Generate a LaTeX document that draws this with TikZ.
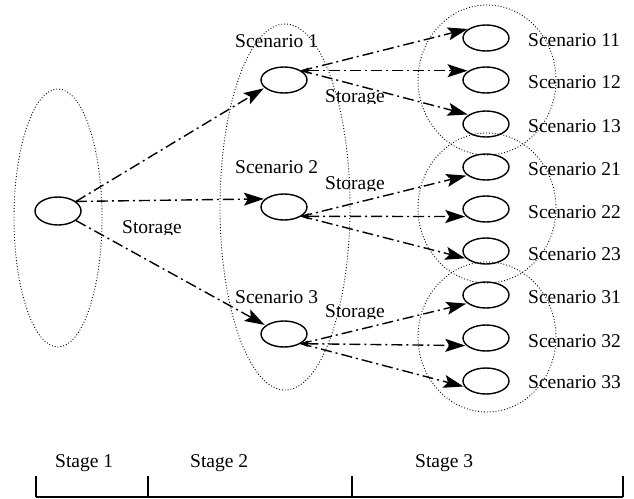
\documentclass[tikz,border=0pt]{standalone}
\usepackage{fontspec}
\setmainfont{Liberation Serif}
\usetikzlibrary{shapes.geometric,arrows.meta}
\begin{document}
\begin{tikzpicture}[x=1pt,y=-1pt,
  scen/.style={draw,ellipse,line width=1.4pt,minimum width=46pt,minimum height=26pt,inner sep=0pt},
  lbl/.style={anchor=base west,inner sep=0pt,font=\fontsize{19.5}{22}\selectfont},
  flow/.style={line width=1.4pt,dash pattern=on 11pt off 4pt on 2pt off 4pt,shorten >=1pt,
    -{Stealth[length=20pt,width=13pt,inset=4pt,line width=1.2pt]}},
  flowmid/.style={flow,{Triangle[length=7pt,width=6pt]}-{Stealth[length=20pt,width=13pt,inset=4pt,line width=1.2pt]}},
  grp/.style={dotted,line width=0.9pt},
  bar/.style={line width=1.4pt}]
\useasboundingbox (0,0) rectangle (634,498);

% group outlines
\draw[grp] (58,218) ellipse [x radius=44pt, y radius=129pt];
\draw[grp] (285,207) ellipse [x radius=65pt, y radius=183pt];
\draw[grp] (487,80) ellipse [x radius=69pt, y radius=75pt];
\draw[grp] (487,208) ellipse [x radius=69pt, y radius=75pt];
\draw[grp] (487,337) ellipse [x radius=69pt, y radius=75pt];

% nodes
\node[scen,minimum height=28pt] (r) at (58,211) {};
\node[scen] (s1) at (284,80) {};
\node[scen] (s2) at (284,207) {};
\node[scen] (s3) at (284,334) {};
\node[scen] (s11) at (486,38) {};
\node[scen] (s12) at (486,80) {};
\node[scen] (s13) at (486,124) {};
\node[scen] (s21) at (486,167) {};
\node[scen] (s22) at (486,209) {};
\node[scen] (s23) at (486,251) {};
\node[scen] (s31) at (486,295) {};
\node[scen] (s32) at (486,338) {};
\node[scen] (s33) at (486,381) {};

% labels
\node[lbl] (l1) at (235,47) {Scenario 1};
\node[lbl] (l2) at (235,173) {Scenario 2};
\node[lbl] (l3) at (235,303) {Scenario 3};
\node[lbl] (l11) at (528,46) {Scenario 11};
\node[lbl] (l12) at (528,88) {Scenario 12};
\node[lbl] (l13) at (528,132) {Scenario 13};
\node[lbl] (l21) at (528,175) {Scenario 21};
\node[lbl] (l22) at (528,218) {Scenario 22};
\node[lbl] (l23) at (528,260) {Scenario 23};
\node[lbl] (l31) at (528,303) {Scenario 31};
\node[lbl] (l32) at (528,347) {Scenario 32};
\node[lbl] (l33) at (528,388) {Scenario 33};

\begin{scope}
\clip (110,200) rectangle (200,234);
\node[lbl] (st0) at (122,233) {Storage};
\end{scope}
\begin{scope}
\clip (315,80) rectangle (400,103);
\node[lbl] (st1) at (325,102) {Storage};
\end{scope}
\begin{scope}
\clip (315,165) rectangle (400,190);
\node[lbl] (st2) at (325,189) {Storage};
\end{scope}
\begin{scope}
\clip (315,290) rectangle (400,318);
\node[lbl] (st3) at (325,317) {Storage};
\end{scope}

% connectors
\draw[flow] (r.28) -- (s1.202);
\draw[flow] (r.28) -- (s2.157);
\draw[flow] (r.-28) -- (s3.155);

\draw[flow] (s1.28) -- (s11.152);
\draw[flowmid] (s1.28) -- (s12.152);
\draw[flow] (s1.28) -- (s13.152);

\draw[flow] (s2.-28) -- (s21.204);
\draw[flowmid] (s2.-28) -- (s22.201);
\draw[flow] (s2.-28) -- (s23.201);

\draw[flow] (s3.-30) -- (s31.204);
\draw[flowmid] (s3.-30) -- (s32.201);
\draw[flow] (s3.-30) -- (s33.195);

% stage bar
\coordinate (b0) at (36,497);
\coordinate (b1) at (148,497);
\coordinate (b2) at (352,497);
\coordinate (b3) at (623,497);
\draw[bar] (b0) -- (b3);
\draw[bar] (b0) -- ++(0,-21);
\draw[bar] (b1) -- ++(0,-21);
\draw[bar] (b2) -- ++(0,-21);
\draw[bar] (b3) -- ++(0,-21);
\node[lbl] (g1) at (55,467) {Stage 1};
\node[lbl] (g2) at (190,467) {Stage 2};
\node[lbl] (g3) at (415,467) {Stage 3};
\end{tikzpicture}
\end{document}
